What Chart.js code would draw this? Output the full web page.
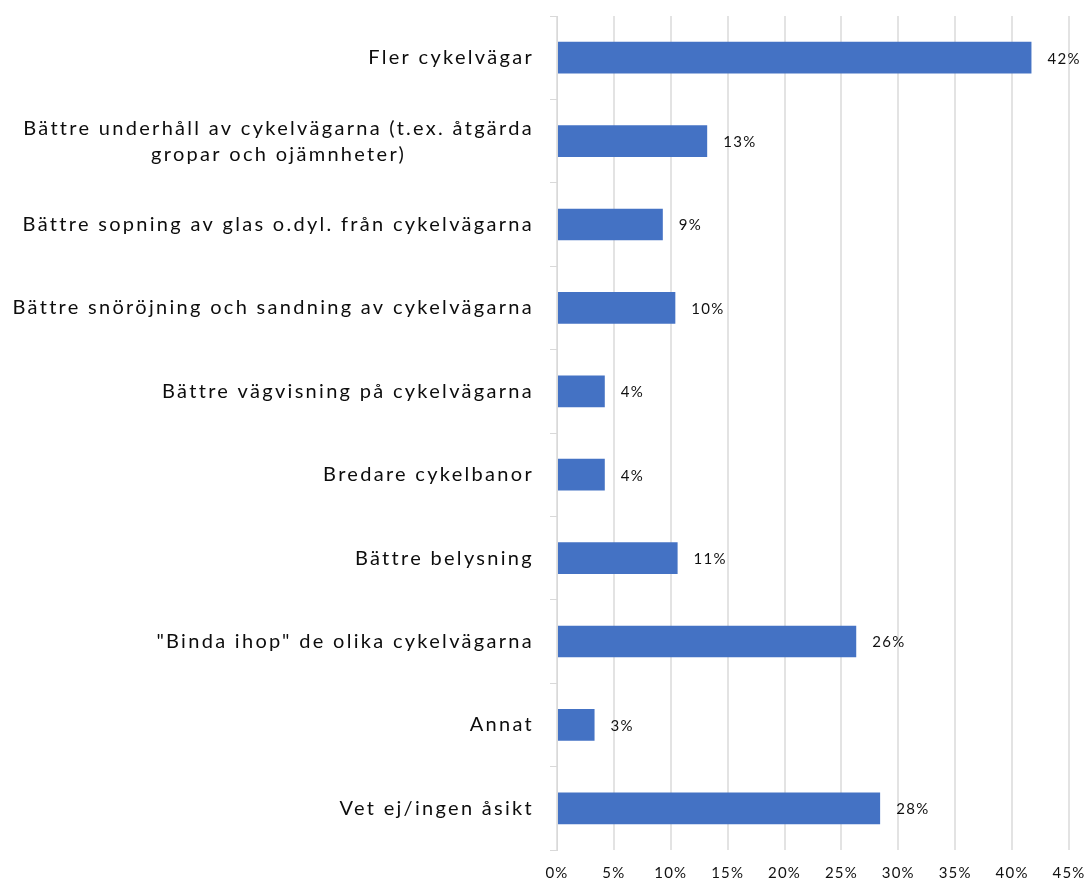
<!DOCTYPE html>
<html>
<head>
<meta charset="utf-8">
<script src="https://cdn.jsdelivr.net/npm/chart.js@4"></script>
<style>
  html, body { margin: 0; padding: 0; background: #fff; }
  #wrap { width: 1087px; height: 882px; }
</style>
</head>
<body>
<div id="wrap"><canvas id="chart"></canvas></div>
<script>
var categories = [
    'Fler cykelvägar',
    ['Bättre underhåll av cykelvägarna (t.ex. åtgärda', 'gropar och ojämnheter)'],
    'Bättre sopning av glas o.dyl. från cykelvägarna',
    'Bättre snöröjning och sandning av cykelvägarna',
    'Bättre vägvisning på cykelvägarna',
    'Bredare cykelbanor',
    'Bättre belysning',
    '"Binda ihop" de olika cykelvägarna',
    'Annat',
    'Vet ej/ingen åsikt'
];
var shares = [41.7, 13.2, 9.3, 10.4, 4.2, 4.2, 10.6, 26.3, 3.3, 28.4];
var xTicks = [0, 5, 10, 15, 20, 25, 30, 35, 40, 45];

// letter spacing for the x tick labels, switched off again before the bars
var spacing = {
    id: 'spacing',
    beforeDraw: function (chart) { chart.ctx.letterSpacing = '1.2px'; },
    beforeDatasetsDraw: function (chart) { chart.ctx.letterSpacing = '0px'; }
};

// y labels: right aligned, multi-line labels centred on their widest line
var yLabels = {
    id: 'yLabels',
    afterDraw: function (chart) {
        var ctx = chart.ctx;
        var y = chart.scales.y;
        var right = chart.chartArea.left - 23;
        ctx.save();
        ctx.font = '20px Lato';
        ctx.letterSpacing = '2.3px';
        ctx.fillStyle = '#0d0d0d';
        ctx.textBaseline = 'middle';
        categories.forEach(function (lab, i) {
            var cy = y.getPixelForValue(i);
            var lines = Array.isArray(lab) ? lab : [lab];
            var widths = lines.map(function (l) { return ctx.measureText(l).width; });
            var widest = Math.max.apply(null, widths);
            var lh = 26;
            lines.forEach(function (l, j) {
                var ly = cy + (j - (lines.length - 1) / 2) * lh;
                ctx.textAlign = 'center';
                ctx.fillText(l, right - widest / 2, ly);
            });
        });
        ctx.restore();
    }
};

var valueLabels = {
    id: 'valueLabels',
    afterDatasetsDraw: function (chart) {
        var ctx = chart.ctx;
        var meta = chart.getDatasetMeta(0);
        ctx.save();
        ctx.font = '15px Lato';
        ctx.letterSpacing = '1.3px';
        ctx.fillStyle = '#111111';
        ctx.textAlign = 'left';
        ctx.textBaseline = 'middle';
        meta.data.forEach(function (bar, i) {
            ctx.fillText(Math.round(shares[i]) + '%', bar.x + 16, bar.y + 1);
        });
        ctx.restore();
    }
};

var ctx = document.getElementById('chart').getContext('2d');
var chart = new Chart(ctx, {
    type: 'bar',
    data: {
        labels: categories,
        datasets: [{
            data: shares,
            backgroundColor: '#4472C4',
            borderWidth: 0,
            barPercentage: 0.76,
            categoryPercentage: 0.5
        }]
    },
    options: {
        indexAxis: 'y',
        responsive: true,
        maintainAspectRatio: false,
        animation: false,
        layout: { padding: { top: 16, right: 18, bottom: 0, left: 0 } },
        scales: {
            x: {
                min: 0,
                max: 45,
                afterBuildTicks: function (s) {
                    s.ticks = xTicks.map(function (v) { return { value: v }; });
                },
                afterFit: function (s) {
                    s.height = 32;
                    s.paddingLeft = 0;
                    s.paddingRight = 0;
                },
                grid: { color: '#e3e3e3', lineWidth: 2, drawTicks: false },
                border: { display: false },
                ticks: {
                    padding: 14,
                    maxRotation: 0,
                    font: { family: 'Lato', size: 15 },
                    color: '#111111',
                    callback: function (v) { return v + '%'; }
                }
            },
            y: {
                afterFit: function (s) { s.width = 557; },
                grid: {
                    offset: true,
                    drawOnChartArea: false,
                    drawTicks: true,
                    tickLength: 7,
                    color: '#d9d9d9',
                    lineWidth: 1
                },
                border: { display: true, color: '#d9d9d9', width: 1 },
                ticks: { display: false }
            }
        },
        plugins: {
            legend: { display: false },
            tooltip: { enabled: false }
        }
    },
    plugins: [spacing, yLabels, valueLabels]
});
</script>
</body>
</html>
